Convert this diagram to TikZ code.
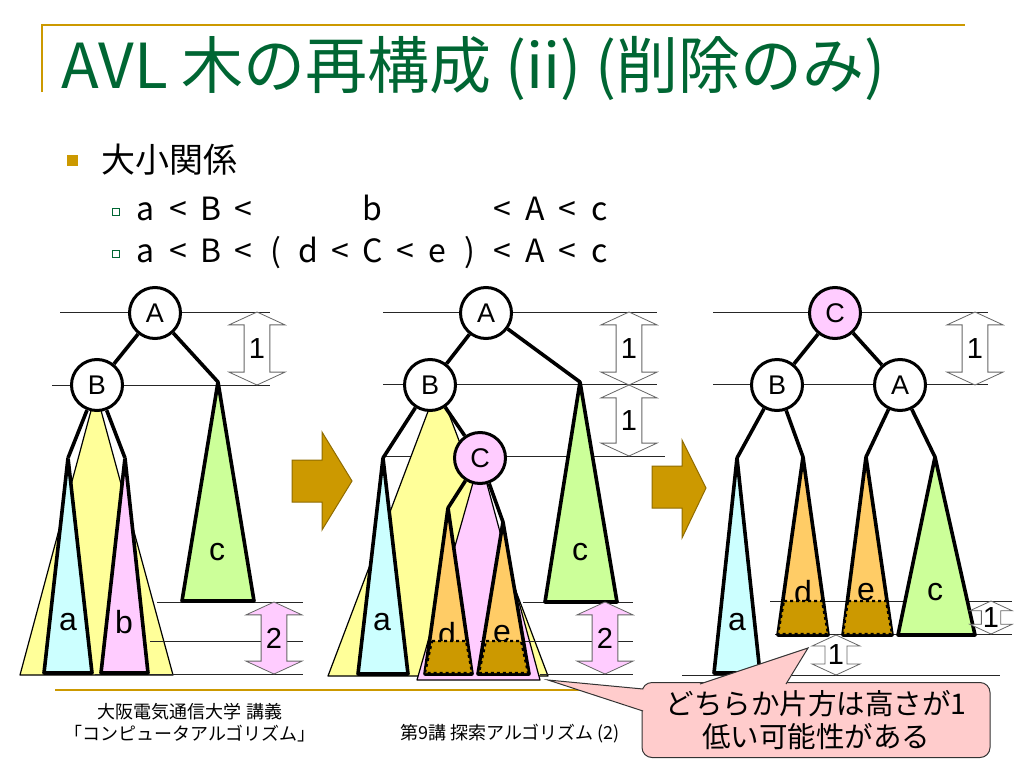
\documentclass[tikz,border=0pt]{standalone}
\usepackage{fontspec}
\setmainfont{Noto Sans CJK JP}
\newfontfamily\labfont{Liberation Sans}

\definecolor{gold}{RGB}{204,153,0}
\definecolor{titlegreen}{RGB}{0,102,51}
\definecolor{cyanfill}{RGB}{204,255,255}
\definecolor{pinkfill}{RGB}{255,204,255}
\definecolor{yellowfill}{RGB}{255,255,153}
\definecolor{greenfill}{RGB}{204,255,153}
\definecolor{orangefill}{RGB}{255,204,102}
\definecolor{notefill}{RGB}{255,204,204}

% height arrow: name, x, top, bottom, half width, fill, label
\newcommand{\hgtarrow}[7]{%
  \draw[fill=#6, draw=black!60, line width=0.8pt] (#2,#3) -- ++(#5,0.46*#5) -- ++(-0.54*#5,0)
    -- ({#2+0.46*#5},{#4-0.46*#5}) -- ++(0.54*#5,0) -- (#2,#4) -- ++(-#5,-0.46*#5)
    -- ++(0.54*#5,0) -- ({#2-0.46*#5},{#3+0.46*#5}) -- ++(-0.54*#5,0) -- cycle;
  \node[num] (#1) at (#2,{(#3+#4)/2}) {#7};}

\begin{document}
\begin{tikzpicture}[x=1pt,y=-1pt,
    guide/.style={line width=0.8pt, black!85},
    tri/.style={draw, line width=3.6pt, line join=round},
    big/.style={draw, line width=1.2pt, line join=round},
    edge/.style={line width=3.6pt},
    dbl/.style={line width=3.6pt, preaction={draw=white, line width=6pt}},
    vtx/.style={circle, draw, line width=3pt, fill=white, minimum size=51pt, inner sep=0pt, font={\labfont\fontsize{27}{27}\selectfont}},
    lbl/.style={font={\labfont\fontsize{32}{32}\selectfont}},
    num/.style={font={\labfont\fontsize{29}{29}\selectfont}},
    cut/.style={draw, dashed, line width=2.2pt, fill=gold},
    rel/.style={anchor=base, font=\fontsize{32}{32}\selectfont},
    go/.style={draw=gold!70!black, fill=gold, line width=1pt}]
\useasboundingbox (0,0) rectangle (1024,768);

% heading
\draw[gold, line width=2pt] (42,92) -- (42,25) -- (965,25);
\node[anchor=base west, text=titlegreen, font=\fontsize{62}{62}\selectfont] (title) at (58,88) {AVL 木の再構成 (ii) (削除のみ)};
\node[fill=gold, minimum size=11pt, inner sep=0pt] (dot) at (72,160) {};
\node[anchor=base west, font=\fontsize{34}{34}\selectfont] (topic) at (98,172) {大小関係};
\node[draw=titlegreen, line width=0.8pt, minimum size=7pt, inner sep=0pt] (sq1) at (116,212) {};
\node[draw=titlegreen, line width=0.8pt, minimum size=7pt, inner sep=0pt] (sq2) at (116,254) {};
\foreach \ch/\k in {a/0,</1,B/2,</3,b/7,</11,A/12,</13,c/14}
  \node[rel] (ra\k) at (146+32.4*\k,220) {\ch};
\foreach \ch [count=\k from 0] in {a,<,B,<,{(},d,<,C,<,e,{)},<,A,<,c}
  \node[rel] (rb\k) at (146+32.4*\k,262) {\ch};

% left tree
\draw[guide] (60,312) -- (270,312) (52,385) -- (270,385);
\draw[big, fill=yellowfill] (96,392) -- (20,675) -- (173,675) -- cycle;
\draw[guide] (157,602) -- (303,602) (150,641) -- (303,641) (95,674) -- (303,674);
\coordinate (a1) at (68,458);
\coordinate (b1) at (125,458);
\coordinate (c1) at (218,382);
\draw[tri, fill=cyanfill] (a1) -- (44,673) -- (92,673) -- cycle;
\draw[tri, fill=pinkfill] (b1) -- (101,673) -- (148,673) -- cycle;
\draw[tri, fill=greenfill] (c1) -- (182,601) -- (254,601) -- cycle;
\node[lbl] (la1) at (68,622) {a};
\node[lbl] (lb1) at (124,622) {b};
\node[lbl] (lc1) at (217,552) {c};
\node[vtx] (A1) at (155,313) {A};
\node[vtx] (B1) at (97,385) {B};
\draw[edge] (A1) -- (B1) (A1) -- (c1);
\draw[dbl] (B1) -- (a1) (B1) -- (b1);
\hgtarrow{h1}{257}{312}{385}{28}{white}{1}
\hgtarrow{h2}{274}{602}{674}{28}{pinkfill}{2}

\draw[go] (292,460) -- (322,460) -- (322,432) -- (352,481) -- (322,530) -- (322,502) -- (292,502) -- cycle;

% middle tree
\draw[guide] (383,312) -- (657,312) (383,384) -- (657,384) (383,456) -- (665,456);
\draw[big, fill=yellowfill] (438,385) -- (328,676) -- (548,676) -- cycle;
\draw[big, fill=pinkfill] (480,458) -- (417,680) -- (540,680) -- cycle;
\draw[guide] (523,602) -- (633,602) (480,641) -- (633,641) (540,674) -- (633,674);
\coordinate (a2) at (383,458);
\coordinate (c2) at (580,382);
\coordinate (d2) at (448,508);
\coordinate (e2) at (503,522);
\draw[tri, fill=cyanfill] (a2) -- (358,674) -- (408,674) -- cycle;
\draw[tri, fill=greenfill] (c2) -- (545,602) -- (617,602) -- cycle;
\draw[tri, fill=orangefill] (d2) -- (425,674) -- (472,674) -- cycle;
\draw[tri, fill=orangefill] (e2) -- (478,674) -- (529,674) -- cycle;
\node[lbl] (la2) at (382,622) {a};
\node[lbl] (lc2) at (580,552) {c};
\node[lbl] (ld2) at (447,634) {d};
\node[lbl] (le2) at (502,634) {e};
\draw[cut] (432,641) -- (466,641) -- (472,673) -- (425,673) -- cycle;
\draw[cut] (486,641) -- (521,641) -- (528,673) -- (479,673) -- cycle;
\node[vtx] (A2) at (486,313) {A};
\node[vtx] (B2) at (430,385) {B};
\node[vtx, fill=pinkfill] (C2) at (480,458) {C};
\draw[edge] (A2) -- (B2) (A2) -- (c2) (B2) -- (a2) (B2) -- (C2) (C2) -- (d2) (C2) -- (e2);
\hgtarrow{h3}{629}{312}{385}{28}{white}{1}
\hgtarrow{h4}{629}{385}{456}{28}{white}{1}
\hgtarrow{h5}{605}{602}{674}{28}{pinkfill}{2}

\draw[go] (652,466) -- (682,466) -- (682,440) -- (706,488) -- (682,538) -- (682,508) -- (652,508) -- cycle;

% right tree
\draw[guide] (713,312) -- (988,312) (713,384) -- (988,384);
\draw[guide] (770,601) -- (1012,601) (775,634) -- (1012,634) (682,675) -- (1000,675);
\coordinate (a3) at (737,458);
\coordinate (d3) at (803,457);
\coordinate (e3) at (866,457);
\coordinate (c3) at (935,457);
\draw[tri, fill=cyanfill] (a3) -- (714,673) -- (760,673) -- cycle;
\draw[tri, fill=orangefill] (d3) -- (778,635) -- (828,635) -- cycle;
\draw[tri, fill=orangefill] (e3) -- (843,635) -- (892,635) -- cycle;
\draw[tri, fill=greenfill] (c3) -- (898,635) -- (975,635) -- cycle;
\node[lbl] (la3) at (737,622) {a};
\node[lbl] (ld3) at (803,592) {d};
\node[lbl] (le3) at (866,592) {e};
\node[lbl] (lc3) at (935,592) {c};
\draw[cut] (784,601) -- (822,601) -- (828,634) -- (778,634) -- cycle;
\draw[cut] (848,601) -- (886,601) -- (892,634) -- (843,634) -- cycle;
\node[vtx, fill=pinkfill] (C3) at (835,313) {C};
\node[vtx] (B3) at (777,385) {B};
\node[vtx] (A3) at (900,385) {A};
\draw[edge] (C3) -- (B3) (C3) -- (A3) (B3) -- (a3) (B3) -- (d3) (A3) -- (e3) (A3) -- (c3);
\hgtarrow{h6}{975}{312}{385}{28}{white}{1}
\hgtarrow{h7}{991}{601}{634}{21}{white}{1}
\hgtarrow{h8}{836}{635}{675}{24}{white}{1}

% footer
\draw[gold, line width=2.5pt] (55,690) -- (965,690);
\node[font=\fontsize{18}{18}\selectfont] (f1) at (190,712) {大阪電気通信大学 講義};
\node[font=\fontsize{18}{18}\selectfont] (f2) at (190,734) {「コンピュータアルゴリズム」};
\node[font=\fontsize{18}{18}\selectfont] (f3) at (510,734) {第9講 探索アルゴリズム (2)};

% callout
\node[draw=black!80, fill=notefill, line width=1pt, rounded corners=10pt, minimum width=348pt, minimum height=75pt, align=center, font=\fontsize{28.5}{33}\selectfont] (note) at (816,720) {どちらか片方は高さが1\\低い可能性がある};
\coordinate (tip1) at (548,680);
\coordinate (tip2) at (808,648);
\draw[fill=notefill, draw=black!80, line width=1pt] (643,689) -- (tip1) -- (643,711);
\draw[fill=notefill, draw=black!80, line width=1pt] (700,684) -- (tip2) -- (786,684);
\end{tikzpicture}
\end{document}
